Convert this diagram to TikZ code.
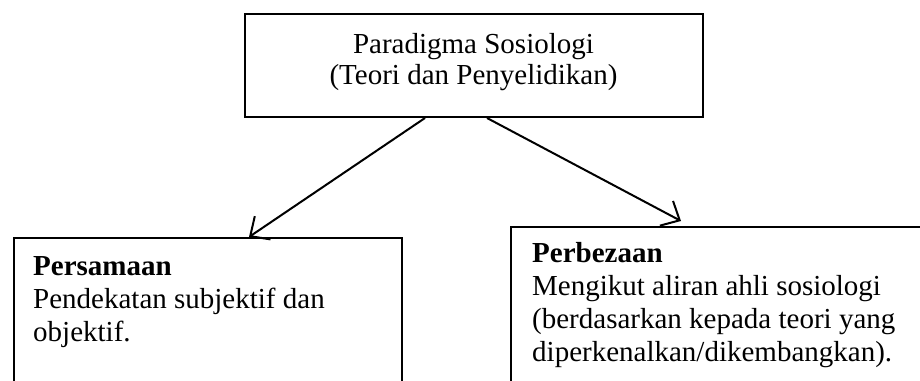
\documentclass[tikz,border=0pt]{standalone}
\usepackage{fontspec}
\setmainfont{Liberation Serif}
\usetikzlibrary{arrows.meta,calc}
\begin{document}
\begin{tikzpicture}[x=1pt,y=1pt,
  box/.style={draw, line width=2pt, rectangle, inner sep=0pt, anchor=north west},
  txt/.style={inner sep=0pt, font=\fontsize{29}{33}\selectfont},
  conn/.style={line width=2pt, -{Straight Barb[length=15pt,width=28pt]}}
]
\useasboundingbox (0,0) rectangle (920,-380);
\clip (0,0) rectangle (920,-380);
\node[box, minimum width=458pt, minimum height=103pt] (top) at (244,-13) {};
\node[box, minimum width=388.5pt, minimum height=200pt] (left) at (12.5,-237) {};
\node[box, minimum width=430pt, minimum height=200pt] (right) at (510,-226) {};
\node[txt, align=center, anchor=base, font=\fontsize{29}{31}\selectfont] (toptxt) at (473.5,-84) {Paradigma Sosiologi\\(Teori dan Penyelidikan)};
\node[txt, align=left, anchor=base west] (lefttxt) at (33,-341) {\textbf{Persamaan}\\Pendekatan subjektif dan\\objektif.};
\node[txt, align=left, anchor=base west] (righttxt) at (532,-361) {\textbf{Perbezaan}\\Mengikut aliran ahli sosiologi\\(berdasarkan kepada teori yang\\diperkenalkan/dikembangkan).};
\draw[conn] ($(top.south west)+(181,0)$) -- ($(left.north west)+(236.5,0)$);
\draw[conn] ($(top.south west)+(243,0)$) -- ($(right.north west)+(171,5)$);
\end{tikzpicture}
\end{document}
